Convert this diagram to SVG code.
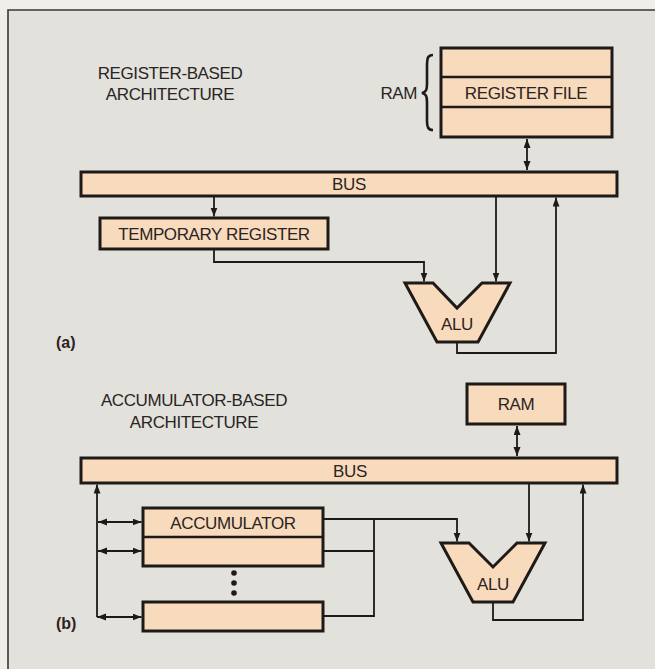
<svg xmlns="http://www.w3.org/2000/svg" width="655" height="669" viewBox="0 0 655 669">
<style>
.box{fill:#f8dabd;stroke:#1e1a18;stroke-width:3}
.div{stroke:#1e1a18;stroke-width:2.6;fill:none}
.ln{fill:none;stroke:#1e1a18;stroke-width:1.8}
.t{font-family:"Liberation Sans",Arial,sans-serif;font-size:17px;letter-spacing:-0.4px;fill:#2a2422}
.c{text-anchor:middle}
.lbl{font-family:"Liberation Sans",Arial,sans-serif;font-size:16px;font-weight:bold;fill:#2a2422}
</style>
<defs>
<marker id="ah" markerUnits="userSpaceOnUse" markerWidth="10" markerHeight="8" refX="9" refY="3.5" orient="auto-start-reverse">
<path d="M0,0 L9,3.5 L0,7 z" fill="#1e1a18"/>
</marker>
</defs>
<rect x="0" y="0" width="655" height="669" fill="#efeeea"/>
<rect x="8" y="10" width="647" height="659" fill="#e3e1dc"/>
<path d="M8,669 V10 H655" fill="none" stroke="#3a3634" stroke-width="1.6"/>

<g id="title-a"><text class="t c" x="170" y="79">REGISTER-BASED</text><text class="t c" x="170" y="100">ARCHITECTURE</text></g>
<g id="label-a"><text class="lbl" x="56" y="348">(a)</text></g>
<g id="ram-label"><text class="t" x="417" y="99" text-anchor="end">RAM</text>
<path class="div" stroke-width="2.6" d="M433,55 C428,55 427,58 427,64 L427,84 C427,90 426,92 422,93 C426,94 427,96 427,102 L427,121 C427,127 428,130 433,130"/></g>
<g id="register-file"><rect class="box" x="441" y="48" width="171" height="89"/>
<line class="div" x1="441" y1="77" x2="612" y2="77"/><line class="div" x1="441" y1="107" x2="612" y2="107"/>
<text class="t c" x="526" y="99">REGISTER FILE</text></g>
<g id="bus-a"><rect class="box" x="81" y="172" width="536" height="24"/><text class="t c" x="349" y="190">BUS</text></g>
<g id="temp-register"><rect class="box" x="100" y="218" width="228" height="31"/><text class="t c" x="214" y="240">TEMPORARY REGISTER</text></g>
<g id="alu-a"><polygon class="box" points="405,283 433,283 457,308 482,283 510,283 478,342 437,342"/><text class="t c" x="457" y="330">ALU</text></g>

<g id="title-b"><text class="t c" x="194" y="406">ACCUMULATOR-BASED</text><text class="t c" x="194" y="428">ARCHITECTURE</text></g>
<g id="label-b"><text class="lbl" x="56" y="629">(b)</text></g>
<g id="ram-b"><rect class="box" x="467" y="384" width="98" height="40"/><text class="t c" x="516" y="410">RAM</text></g>
<g id="bus-b"><rect class="box" x="81" y="458" width="536" height="25"/><text class="t c" x="350" y="477">BUS</text></g>
<g id="accumulators"><rect class="box" x="143" y="508" width="180" height="58"/>
<line class="div" x1="143" y1="537" x2="323" y2="537"/>
<text class="t c" x="233" y="529">ACCUMULATOR</text>
<circle cx="234" cy="573" r="2.8" fill="#1e1a18"/><circle cx="234" cy="583" r="2.8" fill="#1e1a18"/><circle cx="234" cy="593" r="2.8" fill="#1e1a18"/></g>
<g id="accumulator-n"><rect class="box" x="143" y="602" width="180" height="29"/></g>
<g id="alu-b"><polygon class="box" points="441,543 469,543 493,567 517,543 545,543 513,602 473,602"/><text class="t c" x="493" y="590">ALU</text></g>

<g id="connectors">
<line class="ln" x1="527" y1="139" x2="527" y2="170" marker-start="url(#ah)" marker-end="url(#ah)"/>
<path class="ln" d="M214,196 V216.5" marker-end="url(#ah)"/>
<path class="ln" d="M214,249 V262 H424 V281.5" marker-end="url(#ah)"/>
<path class="ln" d="M496,196 V281.5" marker-end="url(#ah)"/>
<path class="ln" d="M457,342 V353 H556 V197.5" marker-end="url(#ah)"/>

<line class="ln" x1="517" y1="426" x2="517" y2="456" marker-start="url(#ah)" marker-end="url(#ah)"/>
<path class="ln" d="M97,617 V484.5" marker-end="url(#ah)"/>
<line class="ln" x1="98" y1="522" x2="141.5" y2="522" marker-start="url(#ah)" marker-end="url(#ah)"/>
<line class="ln" x1="98" y1="551" x2="141.5" y2="551" marker-start="url(#ah)" marker-end="url(#ah)"/>
<line class="ln" x1="97" y1="617" x2="141.5" y2="617" marker-start="url(#ah)" marker-end="url(#ah)"/>
<path class="ln" d="M323,519 H457 V541.5" marker-end="url(#ah)"/>
<path class="ln" d="M323,551 H374"/>
<path class="ln" d="M323,616 H374 V519"/>
<path class="ln" d="M529,483 V541.5" marker-end="url(#ah)"/>
<path class="ln" d="M493,602 V620 H583 V484.5" marker-end="url(#ah)"/>
</g>
</svg>
